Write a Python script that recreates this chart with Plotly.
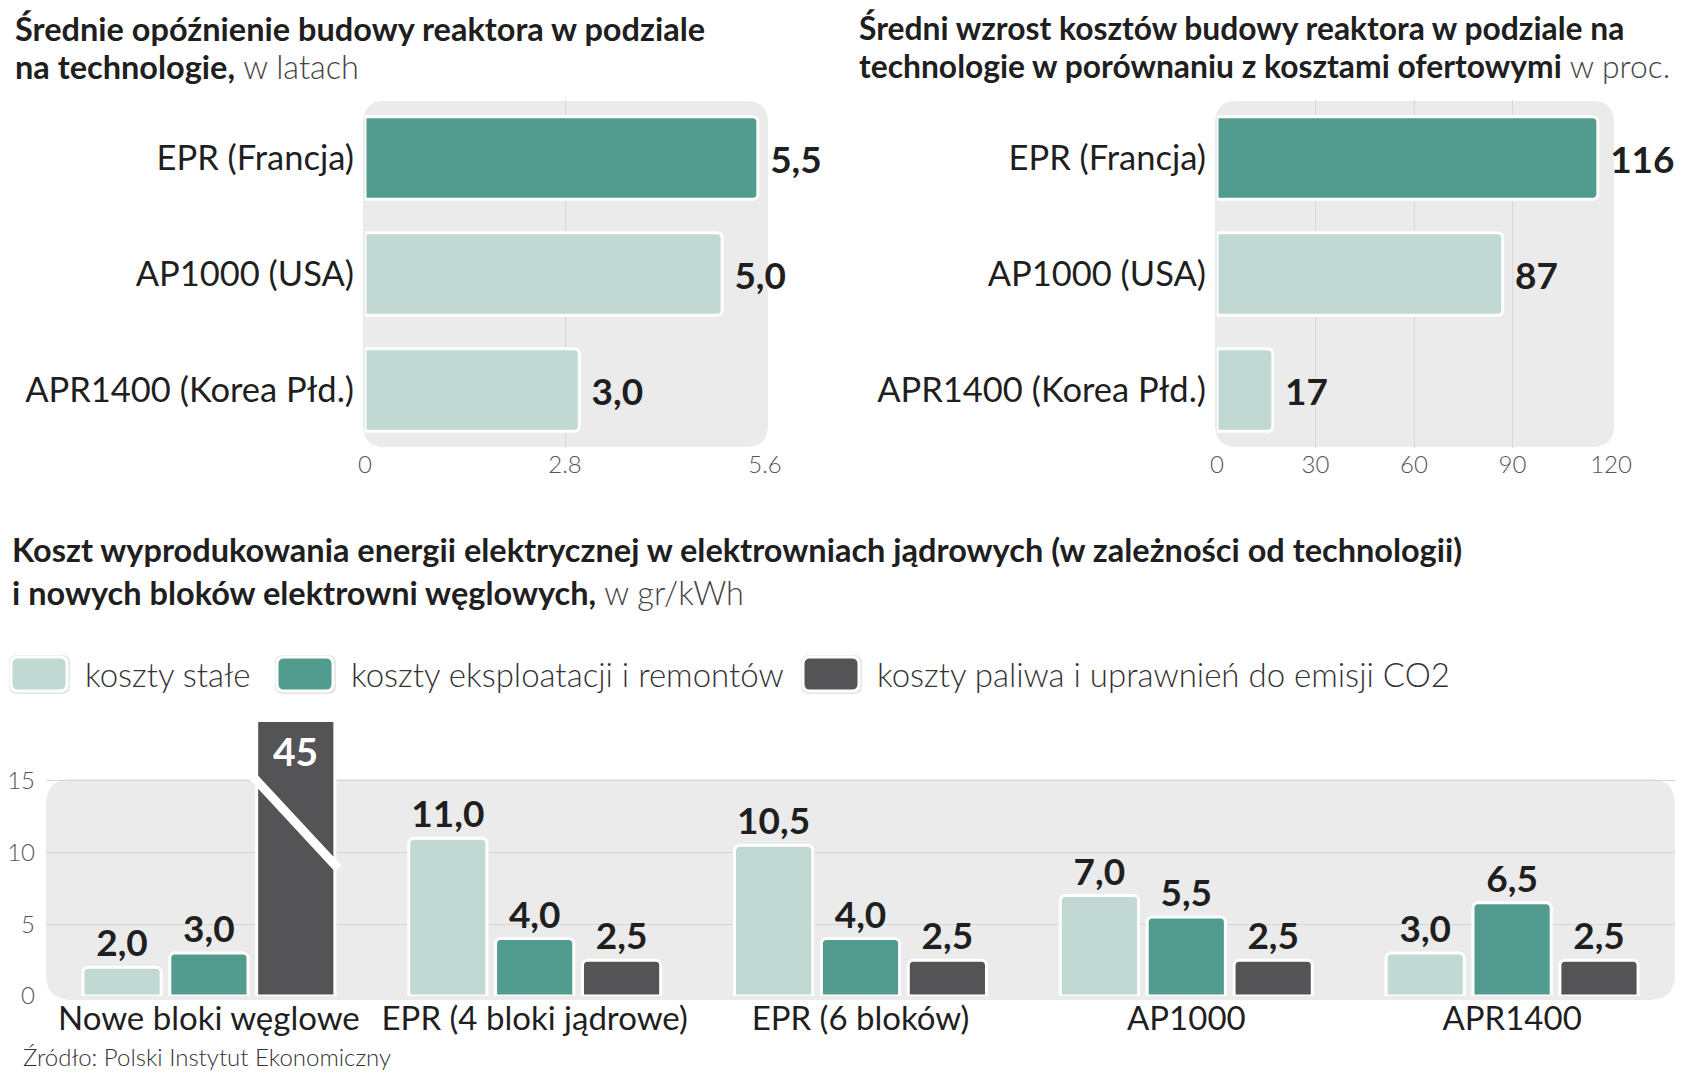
import plotly.graph_objects as go

# ---------------- data ----------------
delay_categories = ["EPR (Francja)", "AP1000 (USA)", "APR1400 (Korea Płd.)"]
delay_values = [5.5, 5.0, 3.0]
delay_ticks = [0, 2.8, 5.6]
delay_ticktext = ["0", "2.8", "5.6"]

cost_categories = ["EPR (Francja)", "AP1000 (USA)", "APR1400 (Korea Płd.)"]
cost_values = [116, 87, 17]
cost_ticks = [0, 30, 60, 90, 120]

energy_categories = ["Nowe bloki węglowe", "EPR (4 bloki jądrowe)", "EPR (6 bloków)", "AP1000", "APR1400"]
fixed_costs = [2.0, 11.0, 10.5, 7.0, 3.0]
operating_costs = [3.0, 4.0, 4.0, 5.5, 6.5]
fuel_costs = [45, 2.5, 2.5, 2.5, 2.5]
energy_ticks = [0, 5, 10, 15]
series_names = ["koszty stałe", "koszty eksploatacji i remontów", "koszty paliwa i uprawnień do emisji CO2"]

# ---------------- style ----------------
PAGE_W, PAGE_H = 1684, 1080
OFF = 8                      # default body margin of the page
W, H = PAGE_W - 2 * OFF, PAGE_H - 2 * OFF
FONT = "Lato, Roboto, sans-serif"
LIGHT = "#c1d9d2"
TEAL = "#529b8f"
DARK = "#545456"
TXT = "#1f1f1f"
GRAY_TXT = "#555555"
BG = "#ebebeb"
BARGAP = 0.2
SP = "\u2005"


def px(x):
    return (x - OFF) / W


def py(y):
    return 1 - (y - OFF) / H


def rrect(x0, y0, x1, y1, r):
    pts = lambda x, y: f"{px(x):.5f},{py(y):.5f}"
    return (f"M {pts(x0 + r, y0)} L {pts(x1 - r, y0)} Q {pts(x1, y0)} {pts(x1, y0 + r)} "
            f"L {pts(x1, y1 - r)} Q {pts(x1, y1)} {pts(x1 - r, y1)} "
            f"L {pts(x0 + r, y1)} Q {pts(x0, y1)} {pts(x0, y1 - r)} "
            f"L {pts(x0, y0 + r)} Q {pts(x0, y0)} {pts(x0 + r, y0)} Z")


def fmt(v):
    return f"{v:.1f}".replace(".", ",")


fig = go.Figure()

# top-left chart
fig.add_trace(go.Bar(
    x=delay_values, y=delay_categories, orientation="h",
    width=0.71,
    marker=dict(color=[TEAL, LIGHT, LIGHT], line=dict(color="white", width=3), cornerradius=5),
    text=[fmt(v) for v in delay_values], texttemplate=SP + "<b>%{text}</b>",
    textposition="outside", cliponaxis=False,
    textfont=dict(family=FONT, size=37, color=TXT),
    xaxis="x", yaxis="y", showlegend=False, hoverinfo="skip",
))

# top-right chart
fig.add_trace(go.Bar(
    x=cost_values, y=cost_categories, orientation="h",
    width=0.71,
    marker=dict(color=[TEAL, LIGHT, LIGHT], line=dict(color="white", width=3), cornerradius=5),
    text=[str(v) for v in cost_values], texttemplate=SP + "<b>%{text}</b>",
    textposition="outside", cliponaxis=False,
    textfont=dict(family=FONT, size=37, color=TXT),
    xaxis="x2", yaxis="y2", showlegend=False, hoverinfo="skip",
))

# bottom chart
Y3_MAX = 19.1
for name, vals, col in zip(series_names, [fixed_costs, operating_costs, fuel_costs], [LIGHT, TEAL, DARK]):
    texts = [fmt(v) if v <= Y3_MAX else "" for v in vals]
    fig.add_trace(go.Bar(
        x=energy_categories, y=vals, name=name,
        marker=dict(color=col, line=dict(color="white", width=3), cornerradius=5),
        text=texts, texttemplate="<b>%{text}</b>",
        textposition="outside", cliponaxis=True,
        textfont=dict(family=FONT, size=37, color=TXT),
        xaxis="x3", yaxis="y3", showlegend=False, hoverinfo="skip",
    ))

# label for the truncated bar
slot = (1 - BARGAP) / 3
fig.add_annotation(x=0 + slot, y=Y3_MAX, xref="x3", yref="y3", yanchor="top", yshift=-4,
                   text=f"<b>{fuel_costs[0]}</b>", showarrow=False,
                   font=dict(family=FONT, size=39, color="white"))
# axis-break mark
fig.add_shape(type="line", xref="x3", yref="y3", x0=0 + slot - 0.14, y0=15.5, x1=0 + slot + 0.13, y1=8.9,
              line=dict(color="white", width=9), layer="above")

# backgrounds
shapes_bg = [
    rrect(363, 101, 768, 447, 22),
    rrect(1215, 101, 1614, 447, 22),
    rrect(46, 779, 1675, 1000, 26),
]
for p in shapes_bg:
    fig.add_shape(type="path", path=p, xref="paper", yref="paper", fillcolor=BG,
                  line=dict(width=0), layer="below")

# legend (custom)
legend_items = [(11, 67, 83), (277, 333, 349), (803, 859, 875)]
for (x0, x1, tx), name, col in zip(legend_items, series_names, [LIGHT, TEAL, DARK]):
    fig.add_shape(type="path", path=rrect(x0 - 2, 655, x1 + 3, 694, 8), xref="paper", yref="paper",
                  fillcolor="rgba(0,0,0,0.10)", line=dict(width=0), layer="above")
    fig.add_shape(type="path", path=rrect(x0, 657, x1, 691, 7), xref="paper", yref="paper",
                  fillcolor=col, line=dict(color="white", width=3), layer="above")
    fig.add_annotation(x=px(tx), y=py(674), xref="paper", yref="paper", xanchor="left", yanchor="middle",
                       text=name, showarrow=False,
                       font=dict(family=FONT, size=33, color="#333333", weight=300))


# titles
def title(x, y, text, size=32.5):
    fig.add_annotation(x=px(x), y=py(y), xref="paper", yref="paper", xanchor="left", yanchor="middle",
                       text=text, showarrow=False, align="left",
                       font=dict(family=FONT, size=size, color=TXT))


LIGHT_SPAN = "<span style='color:#444;font-weight:300'>"
title(13, 28, "<b>Średnie opóźnienie budowy reaktora w podziale</b>")
title(13, 66, "<b>na technologie,</b>" + LIGHT_SPAN + " w latach</span>")
title(857, 28, "<b>Średni wzrost kosztów budowy reaktora w podziale na</b>", 31.8)
title(857, 66, "<b>technologie w porównaniu z kosztami ofertowymi</b>" + LIGHT_SPAN + " w proc.</span>", 31.8)
title(10, 549, "<b>Koszt wyprodukowania energii elektrycznej w elektrowniach jądrowych (w zależności od technologii)</b>")
title(10, 592, "<b>i nowych bloków elektrowni węglowych,</b>" + LIGHT_SPAN + " w gr/kWh</span>")

fig.add_annotation(x=px(21), y=py(1056), xref="paper", yref="paper", xanchor="left", yanchor="middle",
                   text="Źródło: Polski Instytut Ekonomiczny", showarrow=False,
                   font=dict(family=FONT, size=24, color="#333333", weight=300))

tickfont_small = dict(family=FONT, size=24, color=GRAY_TXT, weight=300)
catfont_top = dict(family=FONT, size=34.5, color=TXT)
catfont_bottom = dict(family=FONT, size=33, color=TXT)

common = dict(automargin=False, fixedrange=True, ticks="")
fig.update_layout(
    width=W, height=H,
    margin=dict(l=0, r=0, t=0, b=0, pad=0),
    paper_bgcolor="white", plot_bgcolor="rgba(0,0,0,0)",
    barmode="group", bargap=BARGAP, bargroupgap=0.1,
    xaxis=dict(domain=[px(365), px(765)], range=[0, 5.6], tickvals=delay_ticks,
               ticktext=delay_ticktext, showgrid=True, gridcolor="#d8d8d8", zeroline=False,
               tickfont=tickfont_small, anchor="y", tickangle=0, **common),
    yaxis=dict(domain=[py(448), py(100)], autorange="reversed", tickfont=catfont_top,
               ticklabelstandoff=10, showgrid=False, anchor="x", **common),
    xaxis2=dict(domain=[px(1217), px(1611)], range=[0, 120], tickvals=cost_ticks,
                showgrid=True, gridcolor="#d8d8d8", zeroline=False,
                tickfont=tickfont_small, anchor="y2", tickangle=0, **common),
    yaxis2=dict(domain=[py(448), py(100)], autorange="reversed", tickfont=catfont_top,
                ticklabelstandoff=10, showgrid=False, anchor="x2", **common),
    xaxis3=dict(domain=[px(46), px(1675)], tickfont=catfont_bottom, anchor="y3",
                showgrid=False, tickangle=0, **common),
    yaxis3=dict(domain=[py(996), py(722)], range=[0, Y3_MAX], tickvals=energy_ticks,
                showgrid=True, gridcolor="#d6d6d6", zeroline=False, tickfont=tickfont_small,
                ticklabelstandoff=10, anchor="x3", **common),
)

fig.write_html("out.html")
